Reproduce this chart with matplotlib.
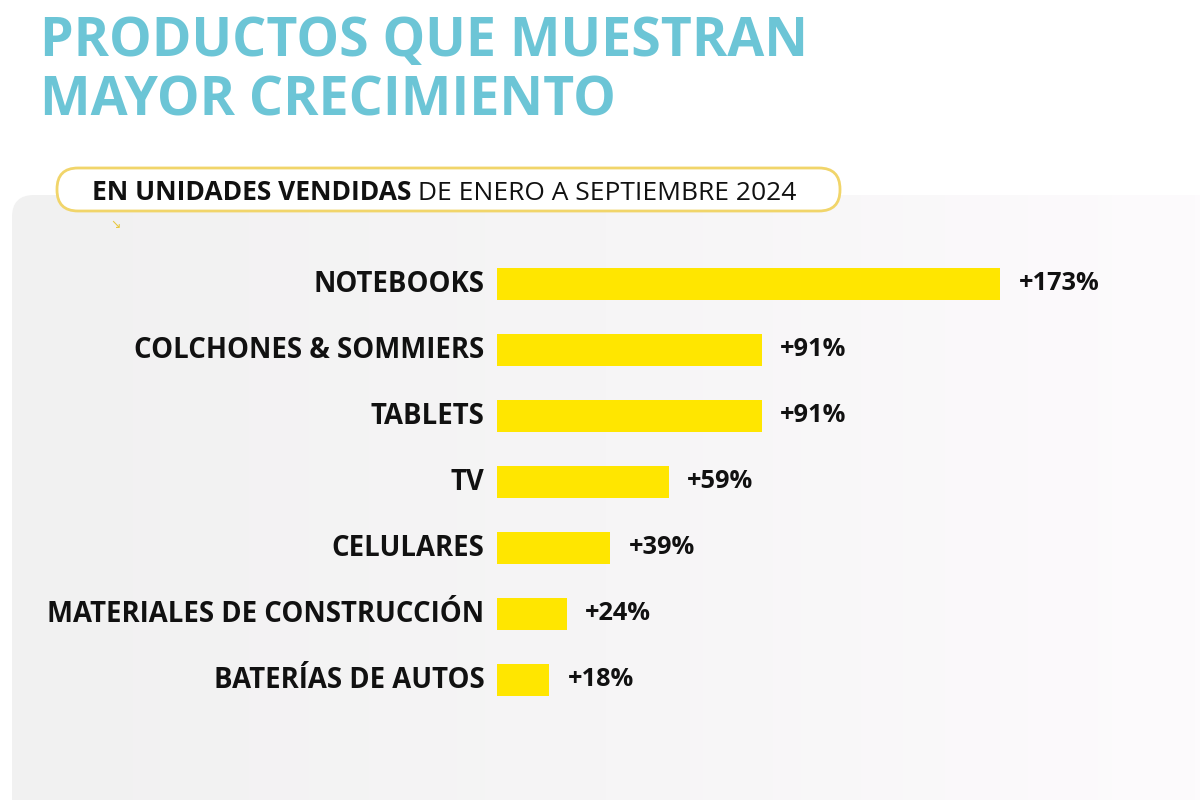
import matplotlib
matplotlib.use("Agg")
import matplotlib.pyplot as plt
import numpy as np
from matplotlib.patches import FancyBboxPatch
from matplotlib.colors import LinearSegmentedColormap

categories = ["NOTEBOOKS", "COLCHONES & SOMMIERS", "TABLETS", "TV", "CELULARES",
              "MATERIALES DE CONSTRUCCIÓN", "BATERÍAS DE AUTOS"]
values = [173, 91, 91, 59, 39, 24, 18]
value_labels = ["+173%", "+91%", "+91%", "+59%", "+39%", "+24%", "+18%"]

title_lines = ["PRODUCTOS QUE MUESTRAN", "MAYOR CRECIMIENTO"]
subtitle_bold = "EN UNIDADES VENDIDAS"
subtitle_rest = " DE ENERO A SEPTIEMBRE 2024"

W, H = 1200, 800
fig = plt.figure(figsize=(12, 8), dpi=100)
fig.patch.set_facecolor("white")
FONT = "Open Sans"

def fx(px):
    return px / W

def fy(py):
    return 1 - py / H

# background panel with gradient
bg = fig.add_axes([0, 0, 1, 1], zorder=0)
bg.set_xlim(0, W)
bg.set_ylim(H, 0)
bg.axis("off")
grad = np.linspace(0, 1, 256)[None, :]
cmap = LinearSegmentedColormap.from_list("g", ["#f1f1f1", "#f6f5f6", "#fdfbfd"])
panel = FancyBboxPatch((12, 195), W + 40, 700, boxstyle="round,pad=0,rounding_size=22",
                       facecolor="none", edgecolor="none")
bg.add_patch(panel)
im = bg.imshow(grad, extent=(12, W, H, 195), cmap=cmap, aspect="auto", zorder=0)
im.set_clip_path(panel)

# subtitle box
box = FancyBboxPatch((57, 168), 783, 43, boxstyle="round,pad=0,rounding_size=21",
                     facecolor="white", edgecolor="#f1d56a", linewidth=2, zorder=2)
bg.add_patch(box)
bg.text(116, 224, "↘", color="#e8c840", fontsize=9, ha="center", va="center",
        family=["DejaVu Sans"], zorder=3)

# title
fig.text(fx(40), fy(56), title_lines[0], color="#6cc5d6", fontsize=38.6, fontweight="bold",
         family=FONT, ha="left", va="baseline")
fig.text(fx(40), fy(116), title_lines[1], color="#6cc5d6", fontsize=38.6, fontweight="bold",
         family=FONT, ha="left", va="baseline")

# subtitle text
t1 = fig.text(fx(92), fy(200), subtitle_bold, color="#111111", fontsize=19, fontweight="bold",
              family=FONT, ha="left", va="baseline", zorder=4)
fig.canvas.draw()
ext = t1.get_window_extent()
fig.text(ext.x1 / W, fy(200), subtitle_rest, color="#111111", fontsize=19,
         family=FONT, ha="left", va="baseline", zorder=4)

# bars
ax = fig.add_axes([fx(497), fy(713), (1079 - 497) / W, 462 / H], zorder=3)
ax.patch.set_alpha(0)
ypos = np.arange(len(categories))
ax.barh(ypos, values, height=0.48, color="#ffe600", edgecolor="none")
ax.set_xlim(0, 200)
ax.set_ylim(6.5, -0.5)
ax.axis("off")
for y, v, cat, lab in zip(ypos, values, categories, value_labels):
    ax.annotate(cat, xy=(0, y), xytext=(-9, 0), textcoords="offset points",
                ha="right", va="center", fontsize=19.8, fontweight="bold",
                family=FONT, color="#111111", annotation_clip=False)
    ax.annotate(lab, xy=(v, y), xytext=(13, 0), textcoords="offset points",
                ha="left", va="center", fontsize=18.3, fontweight="bold",
                family=FONT, color="#111111", annotation_clip=False)

fig.savefig("out.png", dpi=100, facecolor="white")
